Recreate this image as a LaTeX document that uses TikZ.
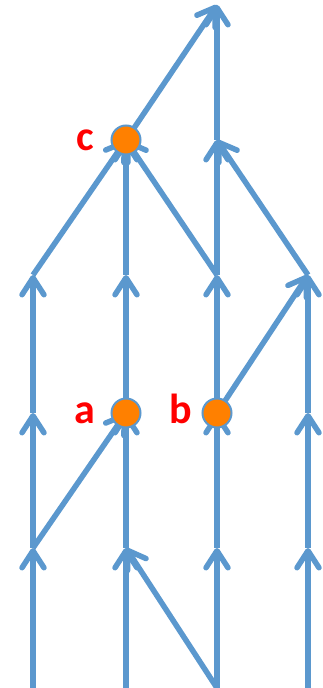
\documentclass[tikz,border=0pt]{standalone}
\usepackage{fontspec}
\setmainfont{Carlito}
\usepackage{tikz}
\usetikzlibrary{arrows.meta,positioning}

\definecolor{lineblue}{RGB}{91,152,206}
\definecolor{dotorange}{RGB}{255,128,0}

\begin{document}
\begin{tikzpicture}[
    x=1pt,y=1pt,
    link/.style={draw=lineblue,line width=5.5pt,-{Straight Barb[length=17pt,width=22pt,round]}},
    vtx/.style={circle,fill=dotorange,draw=lineblue,line width=2pt,minimum size=29pt,inner sep=0pt},
    tag/.style={text=red,font=\fontsize{42}{44}\selectfont\bfseries,inner sep=0pt,text height=21pt,text depth=0pt}
]
\useasboundingbox (0,0) rectangle (323,688);

% grid points: p<column><row>
\foreach \i/\x in {0/33,1/126,2/217,3/308}
  \foreach \j/\y in {0/0,1/140,2/275,3/413,4/548,5/683}
    \coordinate (p\i\j) at (\x,\y);

% straight up
\foreach \s/\t in {p00/p01,p01/p02,p02/p03,
                   p10/p11,p11/p12,p12/p13,p13/p14,
                   p20/p21,p21/p22,p22/p23,p23/p24,p24/p25,
                   p30/p31,p31/p32,p32/p33}
  \draw[link] (\s) -- (\t);

% across
\foreach \s/\t in {p20/p11,p01/p12,p22/p33,p03/p14,p23/p14,p33/p24,p14/p25}
  \draw[link] (\s) -- (\t);

\node[vtx] (a) at (p12) {};
\node[vtx] (b) at (p22) {};
\node[vtx] (c) at (p14) {};

\node[tag,left=15pt of a] {a};
\node[tag,left=9pt of b] {b};
\node[tag,left=16pt of c] {c};
\end{tikzpicture}
\end{document}
